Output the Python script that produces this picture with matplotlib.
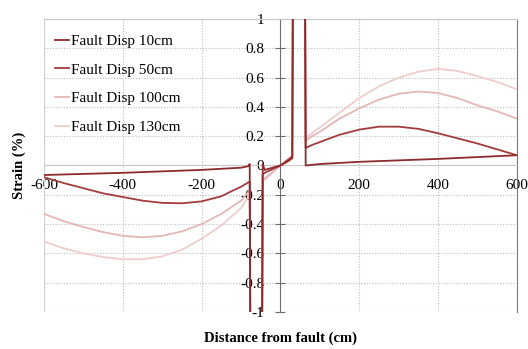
"""
Strain vs distance from fault, four fault displacements.
"""

import matplotlib
matplotlib.use("Agg")
import matplotlib.pyplot as plt

# data (x in cm, strain in %)
x_10 = [-600, -400, -200, -100, -82, -78, -76, -47, -45, -40, 0, 20, 30, 32, 62, 64, 100, 200, 400, 600]
y_10 = [-0.065, -0.05, -0.03, -0.015, -0.005, 0.01, -1.5, -1.5, 0.01, -0.03, 0.0, 0.03, 0.05, 1.5, 1.5, 0.0, 0.01, 0.025, 0.045, 0.07]

x_50 = [-600, -550, -500, -450, -400, -350, -300, -250, -200, -150, -120, -100, -78, -76,
        -47, -45, -40, 0, 30, 32, 62, 64, 80, 100, 150, 200, 250, 300, 350, 400, 450, 500, 550, 600]
y_50 = [-0.08, -0.12, -0.155, -0.19, -0.215, -0.24, -0.255, -0.258, -0.245, -0.21, -0.17, -0.145, -0.11, -1.5,
        -1.5, -0.06, -0.05, 0.0, 0.06, 1.5, 1.5, 0.12, 0.14, 0.16, 0.21, 0.245, 0.265, 0.265, 0.25, 0.22, 0.185, 0.15, 0.11, 0.07]

x_100 = [-600, -550, -500, -450, -400, -350, -300, -250, -200, -150, -100, -78, -76,
         -47, -45, 0, 30, 32, 62, 64, 80, 100, 150, 200, 250, 300, 350, 400, 450, 500, 550, 600]
y_100 = [-0.33, -0.38, -0.42, -0.455, -0.48, -0.49, -0.48, -0.45, -0.40, -0.33, -0.24, -0.17, -1.5,
         -1.5, -0.1, 0.0, 0.06, 1.5, 1.5, 0.17, 0.2, 0.23, 0.32, 0.39, 0.45, 0.49, 0.505, 0.495, 0.46, 0.41, 0.37, 0.32]

x_130 = [-600, -550, -500, -450, -400, -350, -300, -250, -200, -150, -100, -78, -76,
         -47, -45, 0, 30, 32, 62, 64, 80, 100, 150, 200, 250, 300, 350, 400, 450, 500, 550, 600]
y_130 = [-0.52, -0.565, -0.60, -0.625, -0.64, -0.64, -0.62, -0.575, -0.50, -0.41, -0.29, -0.2, -1.5,
         -1.5, -0.11, 0.0, 0.07, 1.5, 1.5, 0.19, 0.22, 0.26, 0.36, 0.46, 0.54, 0.60, 0.64, 0.66, 0.645, 0.61, 0.57, 0.52]

labels = ["Fault Disp 10cm", "Fault Disp 50cm", "Fault Disp 100cm", "Fault Disp 130cm"]
colors = ["#8E2A2E", "#A33B3E", "#E4B6B7", "#EDCDCD"]

x_ticks = [-600, -400, -200, 0, 200, 400, 600]
y_ticks = [-1, -0.8, -0.6, -0.4, -0.2, 0, 0.2, 0.4, 0.6, 0.8, 1]
y_tick_labels = ["-1", "-0.8", "-0.6", "-0.4", "-0.2", "0", "0.2", "0.4", "0.6", "0.8", "1"]

plt.rcParams['font.family'] = ['Liberation Serif', 'DejaVu Serif']
plt.rcParams['axes.unicode_minus'] = False

fig = plt.figure(figsize=(5.28, 3.49), dpi=100)
ax = fig.add_axes([0.0833, 0.106, 0.979 - 0.0833, 0.9456 - 0.106])

# draw light series first so dark ones sit on top
series = [(x_130, y_130, 3), (x_100, y_100, 2), (x_50, y_50, 1), (x_10, y_10, 0)]
handles = {}
for xs, ys, i in series:
    line, = ax.plot(xs, ys, color=colors[i], linewidth=1.3, label=labels[i], zorder=3)
    handles[i] = line

ax.set_xlim(-600, 600)
ax.set_ylim(-1, 1)
ax.set_xticks(x_ticks)
ax.set_yticks(y_ticks)
ax.set_yticklabels(y_tick_labels)

# Excel-style axes crossing at the origin
ax.spines['left'].set_position(('data', 0))
ax.spines['bottom'].set_position(('data', 0))
ax.spines['left'].set_color('#6E6E6E')
ax.spines['bottom'].set_color('#C8C8C8')
ax.spines['top'].set_color('#C8C8C8')
ax.spines['right'].set_color('#7A7A7A')
ax.axvline(-600, color='#D0D0D0', linewidth=0.8, zorder=1)

ax.tick_params(axis='y', direction='inout', length=7, width=0.8, color='#6E6E6E',
               labelsize=11, pad=8)
ax.tick_params(axis='x', length=0, labelsize=11, pad=10)

ax.grid(True, color='#BDBDBD', linestyle=(0, (1, 1.5)), linewidth=0.8, zorder=0)
ax.set_axisbelow(True)

ax.set_xlabel("Distance from fault (cm)", fontsize=10.5, fontweight='bold')
ax.set_ylabel("Strain (%)", fontsize=10.5, fontweight='bold')
ax.xaxis.set_label_coords(0.5, -0.065)
ax.yaxis.set_label_coords(-0.038, 0.5)

ax.legend([handles[i] for i in range(4)], labels, loc='upper left',
          bbox_to_anchor=(-0.005, 0.995), frameon=False, fontsize=11,
          handlelength=0.9, handletextpad=0.15, labelspacing=0.98)

fig.savefig("out.png", dpi=100)
